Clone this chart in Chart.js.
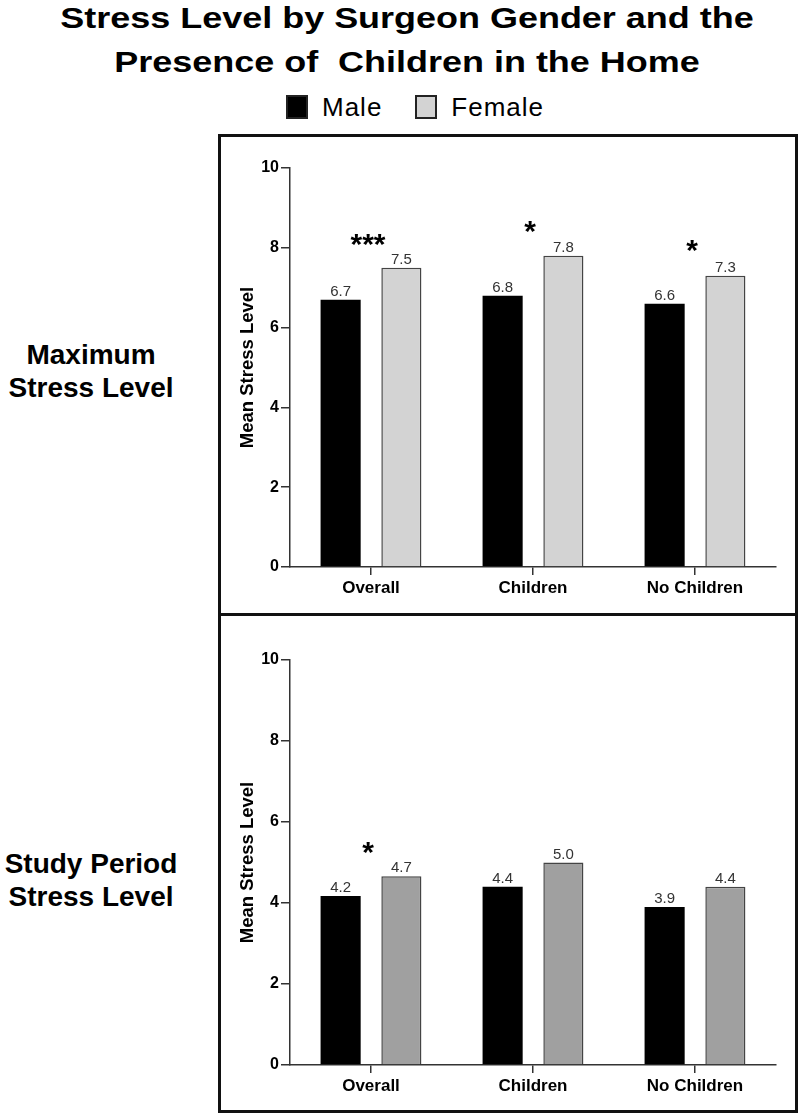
<!DOCTYPE html>
<html>
<head>
<meta charset="utf-8">
<script src="https://cdn.jsdelivr.net/npm/chart.js@4.4.1/dist/chart.umd.min.js"></script>
<style>
  body { margin: 0; width: 800px; height: 1115px; background: #fff; position: relative; overflow: hidden;
         font-family: 'Liberation Sans', Arial, sans-serif; color: #000; }
  #title { position: absolute; left: 7px; top: -4px; width: 800px; text-align: center; font-weight: bold;
           font-size: 29px; line-height: 44px; transform: scaleX(1.24); transform-origin: 400px 0; white-space: pre; }
  #legend { position: absolute; left: 286px; top: 95px; height: 24px; display: flex; align-items: center; }
  #legend .sw { width: 18px; height: 20px; border: 2px solid #222; margin-right: 14px; }
  #legend .lb { font-size: 26px; letter-spacing: 1px; margin-right: 33px; }
  .box { position: absolute; left: 218px; width: 580px; border: 3px solid #111; box-sizing: border-box; }
  .side { position: absolute; left: 0; width: 182px; text-align: center; font-weight: bold; font-size: 28px; line-height: 33px; }
  canvas { position: absolute; left: 221px; }
</style>
</head>
<body>
<div id="title">Stress Level by Surgeon Gender and the
Presence of  Children in the Home</div>
<div id="legend"></div>

<div class="box" style="top:134px;height:482px"></div>
<div class="box" style="top:613px;height:500px"></div>

<div class="side" style="top:338px">Maximum<br>Stress Level</div>
<div class="side" style="top:847px">Study Period<br>Stress Level</div>

<canvas id="maxChart" width="574" height="474" style="top:138px"></canvas>
<canvas id="studyChart" width="574" height="491" style="top:618px"></canvas>

<script>
const categories = ['Overall', 'Children', 'No Children']
const seriesNames = ['Male', 'Female']

// maximum stress level
const maxMale = [6.7, 6.8, 6.6]
const maxFemale = [7.5, 7.8, 7.3]
const maxStars = ['***', '*', '*']
const maxStarLevel = [8.27, 8.6, 8.12]

// study period stress level
const studyMale = [4.17, 4.4, 3.9]
const studyFemale = [4.66, 5.0, 4.4]
const studyStars = ['*', '', '']
const studyStarLevel = [5.43, 0, 0]

const yTicks = [0, 2, 4, 6, 8, 10]

const maleColor = '#000000'
const femaleLight = '#d3d3d3'
const femaleDark = '#a0a0a0'

Chart.defaults.font.family = "'Liberation Sans', Arial, sans-serif"
Chart.defaults.color = '#000'

// legend above the panels
const legendColors = [maleColor, femaleLight]
const legendEl = document.getElementById('legend')
seriesNames.forEach((name, i) => {
    const sw = document.createElement('div')
    sw.className = 'sw'
    sw.style.background = legendColors[i]
    const lb = document.createElement('div')
    lb.className = 'lb'
    lb.textContent = name
    legendEl.appendChild(sw)
    legendEl.appendChild(lb)
})

// value labels on bars + significance stars
const barText = {
    id: 'barText',
    afterDatasetsDraw(chart, args, opts) {
        const ctx = chart.ctx
        ctx.save()
        ctx.font = "15px 'Liberation Sans', Arial, sans-serif"
        ctx.fillStyle = '#333'
        ctx.textAlign = 'center'
        ctx.textBaseline = 'alphabetic'
        chart.data.datasets.forEach((ds, i) => {
            chart.getDatasetMeta(i).data.forEach((bar, j) => {
                ctx.fillText(ds.data[j].toFixed(1), bar.x, bar.y - 4)
            })
        })
        const xs = chart.scales.x
        const ys = chart.scales.y
        ctx.font = "bold 30px 'Liberation Sans', Arial, sans-serif"
        ctx.fillStyle = '#000'
        opts.marks.forEach((m, j) => {
            if (!m) return
            ctx.fillText(m, xs.getPixelForValue(j) - 3, ys.getPixelForValue(opts.levels[j]) + 17)
        })
        ctx.restore()
    }
}

function makeChart(id, male, female, femaleColor, marks, levels, padTop, xHeight) {
    return new Chart(id, {
        type: 'bar',
        data: {
            labels: categories,
            datasets: [
                {
                    label: seriesNames[0],
                    data: male,
                    backgroundColor: maleColor,
                    borderWidth: 0,
                    categoryPercentage: 0.75,
                    barPercentage: 0.66
                },
                {
                    label: seriesNames[1],
                    data: female,
                    backgroundColor: femaleColor,
                    borderColor: '#444',
                    borderWidth: 1.5,
                    categoryPercentage: 0.75,
                    barPercentage: 0.66
                }
            ]
        },
        options: {
            responsive: false,
            animation: false,
            devicePixelRatio: 1,
            layout: { padding: { left: 12, top: padTop, right: 19, bottom: 0 } },
            plugins: {
                legend: { display: false },
                tooltip: { enabled: false },
                barText: { marks: marks, levels: levels }
            },
            scales: {
                x: {
                    offset: true,
                    grid: { display: true, drawOnChartArea: false, drawTicks: true, tickLength: 8, offset: false, color: '#333', lineWidth: 1.5 },
                    border: { display: true, color: '#333', width: 1.5 },
                    ticks: { font: { size: 17, weight: 'bold' }, color: '#000', padding: 3, maxRotation: 0 },
                    afterFit: (s) => { s.height = xHeight }
                },
                y: {
                    min: 0,
                    max: 10,
                    afterBuildTicks: (s) => { s.ticks = yTicks.map(v => ({ value: v })) },
                    grid: { display: true, drawOnChartArea: false, drawTicks: true, tickLength: 9, color: '#333', lineWidth: 1.5 },
                    border: { display: true, color: '#333', width: 1.5 },
                    ticks: { font: { size: 16, weight: 'bold' }, color: '#000', padding: 2 },
                    title: { display: true, text: 'Mean Stress Level', font: { size: 18.5, weight: 'bold' }, color: '#000', padding: 4 },
                    afterFit: (s) => { s.width = 57 }
                }
            }
        },
        plugins: [barText]
    })
}

makeChart('maxChart', maxMale, maxFemale, femaleLight, maxStars, maxStarLevel, 30, 45)
makeChart('studyChart', studyMale, studyFemale, femaleDark, studyStars, studyStarLevel, 42, 44)
</script>
</body>
</html>
